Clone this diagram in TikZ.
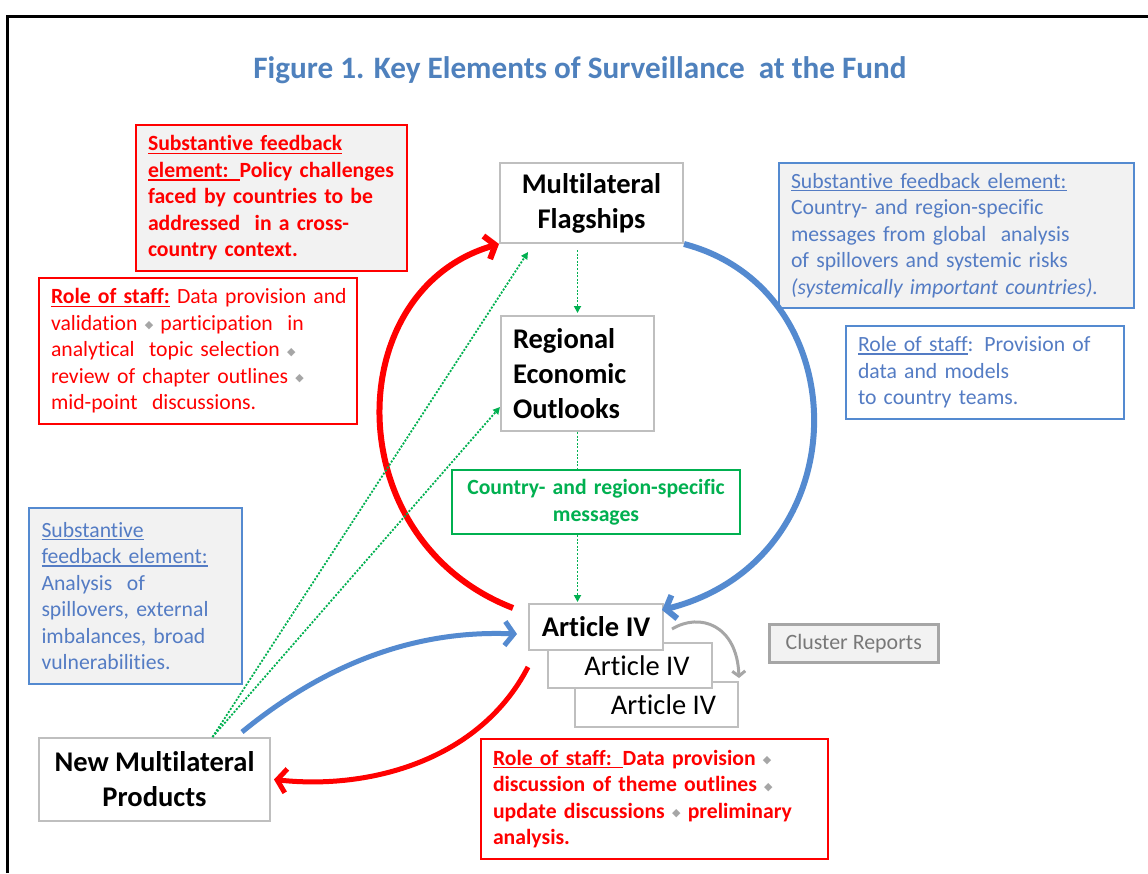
\documentclass[tikz,border=0pt]{standalone}
\usepackage{fontspec}
\setmainfont{Carlito}[Ligatures=NoCommon]
\newfontfamily\dejavu{DejaVu Sans}
\usetikzlibrary{arrows.meta,calc}
\definecolor{ired}{RGB}{255,0,0}
\definecolor{iblue}{RGB}{84,124,196}
\definecolor{ablue}{RGB}{84,138,208}
\definecolor{titleblue}{RGB}{79,129,189}
\definecolor{igreen}{RGB}{0,176,80}
\definecolor{fillgray}{RGB}{242,242,242}
\definecolor{boxgray}{RGB}{191,191,191}
\definecolor{bulletgray}{RGB}{166,166,166}
\definecolor{clustergray}{RGB}{120,120,120}
\newsavebox\ulbox
\newcommand{\myul}[1]{\leavevmode\sbox\ulbox{#1}\rlap{\rule[-3.2pt]{\wd\ulbox}{1.5pt}}\usebox\ulbox}
\newcommand{\dmd}{{\dejavu\fontsize{11}{11}\selectfont\color{bulletgray}\raisebox{1.5pt}{◆}}}
\begin{document}
\begin{tikzpicture}[x=1pt,y=-1pt,
  note/.style={rectangle, anchor=north west, line width=2pt, inner xsep=12pt, inner ysep=0pt, align=left, font=\fontsize{21.7}{26.5}\selectfont},
  mainbox/.style={rectangle, anchor=north west, draw=boxgray, line width=2pt, fill=white, inner sep=0pt, align=center, font=\bfseries\fontsize{28.5}{35}\selectfont},
  redarrow/.style={draw=ired, line width=6pt, -{Straight Barb[length=9pt,width=24pt]}},
  bluearrow/.style={draw=ablue, line width=6pt, -{Straight Barb[length=9pt,width=24pt]}},
  gline/.style={draw=igreen, line width=1.8pt, dash pattern=on 2pt off 1.6pt, -{Triangle[length=7pt,width=7pt]}},
  grayarrow/.style={draw=bulletgray, line width=3pt, -{Straight Barb[length=5pt,width=13pt]}}
]
\useasboundingbox (0,0) rectangle (1148,873);
\fill[white] (0,0) rectangle (1148,873);
% frame
\draw[line width=3pt] (7,873) -- (7,16) -- (1148,16);
% title
\node[font=\bfseries\fontsize{31.2}{36}\selectfont, text=titleblue] (title) at (580,70) {Figure 1. Key Elements of Surveillance~ at the Fund};

% red notes
\node[note, draw=ired, fill=fillgray, text=ired, text width=247pt, minimum height=146pt, font=\bfseries\fontsize{21.7}{26.5}\selectfont] (rf1) at (135,124)
 {\myul{Substantive feedback}\\\myul{element: }Policy challenges\\faced by countries to be\\addressed~ in a cross-\\country context.};
\node[note, draw=ired, fill=white, text=ired, text width=306pt, inner xsep=6pt, minimum height=146pt] (rf2) at (38,277)
 {\hspace*{6pt}\myul{\textbf{Role of staff:}} Data provision and\\\hspace*{6pt}validation \dmd\ participation~ in\\\hspace*{6pt}analytical~ topic selection \dmd\\\hspace*{6pt}review of chapter outlines \dmd\\\hspace*{6pt}mid-point~ discussions.};
\node[note, draw=ired, fill=white, text=ired, text width=323pt, minimum height=120pt, font=\bfseries\fontsize{21.7}{26.5}\selectfont] (rf3) at (480,738)
 {\myul{Role of staff: }Data provision \dmd\\discussion of theme outlines \dmd\\update discussions \dmd\ preliminary\\analysis.};

% blue notes
\node[note, draw=ablue, fill=fillgray, text=iblue, text width=331pt, minimum height=145pt] (bf1) at (778,162)
 {\myul{Substantive feedback element:}\\Country- and region-specific\\messages from global~ analysis\\of spillovers and systemic risks\\\textit{(systemically important countries).}};
\node[note, draw=ablue, fill=white, text=iblue, text width=254pt, minimum height=93pt] (bf2) at (845,325)
 {\myul{Role of staff}: Provision of\\data and models\\to country teams.};
\node[note, draw=ablue, fill=fillgray, text=iblue, text width=188pt, minimum height=176pt, inner xsep=12.5pt] (bf3) at (28,507)
 {\myul{Substantive}\\\myul{feedback element:}\\Analysis~ of\\spillovers, external\\imbalances, broad\\vulnerabilities.};

% green message box
\node[note, draw=igreen, fill=white, text=igreen, text width=264pt, minimum height=64pt, align=center, font=\bfseries\fontsize{21.7}{26.5}\selectfont] (gbox) at (451,469)
 {Country- and region-specific\\messages};

% main boxes
\node[mainbox, minimum width=183pt, minimum height=80pt] (flag) at (499,162) {Multilateral\\Flagships};
\node[mainbox, align=left, text width=129pt, inner xsep=12pt, minimum height=115pt] (reo) at (500,315) {Regional\\Economic\\Outlooks};
\node[mainbox, minimum width=231pt, minimum height=83pt] (nmp) at (38,737) {New Multilateral\\Products};
\node[mainbox, minimum width=163pt, minimum height=45pt, font=\fontsize{28.5}{35}\selectfont] (a3) at (574,681) {\hspace*{14pt}Article IV};
\node[mainbox, minimum width=164pt, minimum height=45pt, font=\fontsize{28.5}{35}\selectfont] (a2) at (547,642) {\hspace*{14pt}Article IV};
\node[mainbox, minimum width=134pt, minimum height=46pt] (a1) at (528,603) {Article IV};
\node[rectangle, anchor=north west, draw=bulletgray, line width=2.5pt, fill=fillgray, text=clustergray, minimum width=169pt, minimum height=38pt, inner sep=0pt, font=\fontsize{21.9}{26.5}\selectfont] (cl) at (768,623) {Cluster Reports};

% big arcs
\draw[redarrow] ($(a1.north west)+(-15,5)$) .. controls (337,540) and (340,290) .. (flag.south west);
\draw[bluearrow] (flag.south east) .. controls (860,290) and (860,560) .. ($(a1.north east)+(-2,7)$);
% lower arrows
\draw[bluearrow, line width=5pt] ($(nmp.north east)+(-29,-5)$) .. controls (330,660) and (420,630) .. ($(a1.west)+(-11,7)$);
\draw[redarrow, line width=5pt] ($(a1.south west)+(0,16)$) .. controls (480,760) and (370,790) .. ($(nmp.east)+(3,0)$);
% gray cluster arrow
\draw[grayarrow] ($(a1.east)+(8,2)$) .. controls (700,612) and (737,625) .. ($(a3.north east)+(0,-3)$);

% green dotted connectors
\draw[gline] ($(flag.south -| reo.north)+(0,6)$) -- ($(reo.north)+(0,-2)$);
\draw[gline, -] (reo.south) -- (reo.south |- gbox.north);
\draw[gline] (gbox.south -| reo.south) -- ($(a1.north -| reo.south)+(0,-1)$);
\coordinate (gs) at ($(nmp.north)+(58,0)$);
\draw[gline] (gs) -- ($(flag.south west)+(29,8)$);
\draw[gline] (gs) -- ($(reo.south west)+(0,-25)$);
\end{tikzpicture}
\end{document}
